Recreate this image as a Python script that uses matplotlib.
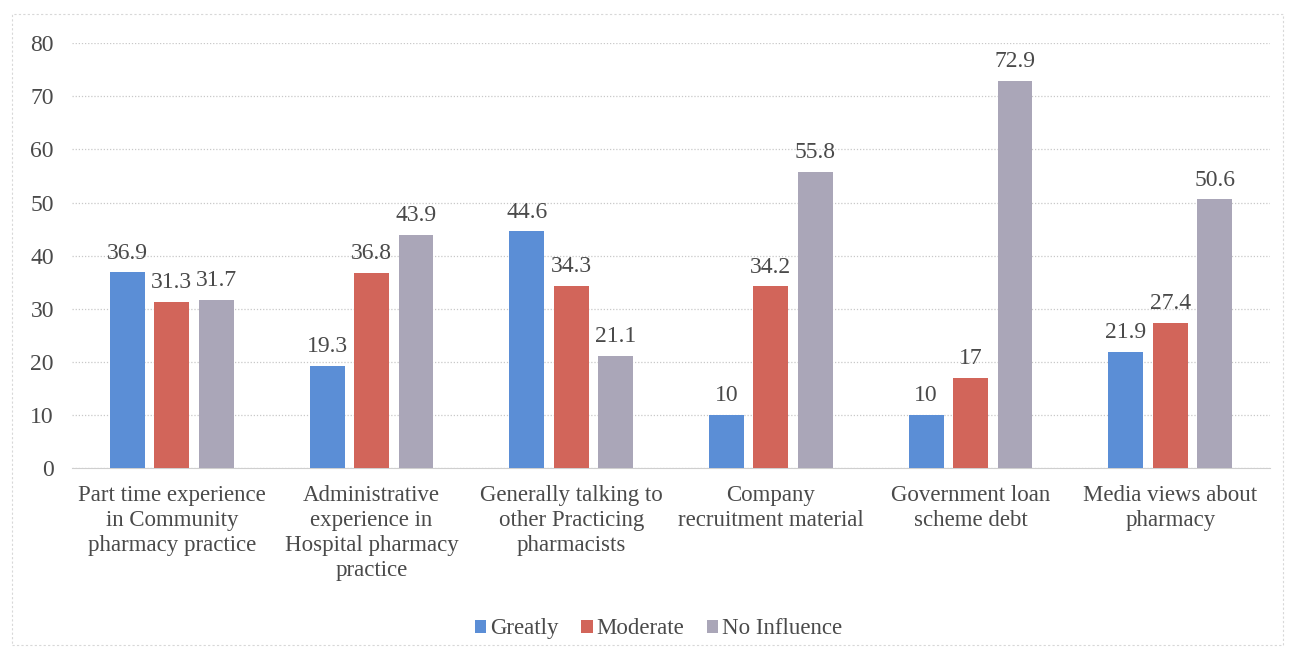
import matplotlib.pyplot as plt
import numpy as np
from matplotlib.patches import Rectangle

categories = ['Part time experience\nin Community\npharmacy practice',
              'Administrative\nexperience in\nHospital pharmacy\npractice',
              'Generally talking to\nother Practicing\npharmacists',
              'Company\nrecruitment material',
              'Government loan\nscheme debt',
              'Media views about\npharmacy']
greatly = [36.9, 19.3, 44.6, 10, 10, 21.9]
moderate = [31.3, 36.8, 34.3, 34.2, 17, 27.4]
no_influence = [31.7, 43.9, 21.1, 55.8, 72.9, 50.6]

series = [('Greatly', greatly, '#5b8ed6'),
          ('Moderate', moderate, '#d2655a'),
          ('No Influence', no_influence, '#aaa6b8')]

plt.rcParams['font.family'] = ['Liberation Serif', 'DejaVu Serif']
txt = '#4a4a4a'

fig = plt.figure(figsize=(12.91, 6.55), dpi=100)
ax = fig.add_axes([0.0558, 0.2855, 0.928, 0.6485])

x = np.arange(len(categories))
w = 0.175
step = 0.2225
for i, (name, vals, col) in enumerate(series):
    pos = x + (i - 1) * step
    bars = ax.bar(pos, vals, w, color=col, label=name, zorder=3)
    for b, v in zip(bars, vals):
        ax.text(b.get_x() + b.get_width() / 2, v + 1.6, f'{v:g}',
                ha='center', va='bottom', fontsize=17, color=txt)

ax.set_xlim(-0.5, len(categories) - 0.5)
ax.set_ylim(0, 80)
ax.set_yticks(range(0, 81, 10))
ax.yaxis.grid(True, linestyle=(0, (1, 1.5)), color='#c8c8c8', linewidth=0.9, zorder=0)
ax.set_xticks(x)
ax.set_xticklabels(categories, fontsize=16.5, color=txt, linespacing=1.25)
ax.tick_params(axis='y', labelsize=17, labelcolor=txt, length=0, pad=13)
ax.tick_params(axis='x', length=0, pad=12)
for s in ['top', 'right', 'left']:
    ax.spines[s].set_visible(False)
ax.spines['bottom'].set_color('#cfcfcf')

ax.legend(loc='center', bbox_to_anchor=(0.51, 0.04), bbox_transform=fig.transFigure,
          ncol=3, frameon=False, fontsize=16.5, handlelength=0.5, handleheight=0.5,
          handletextpad=0.15, columnspacing=1.0, labelcolor=txt)

fig.add_artist(Rectangle((0.009, 0.015), 0.985, 0.963, transform=fig.transFigure,
                         fill=False, edgecolor='#d8d8d8', linestyle=(0, (2, 2)),
                         linewidth=0.8))

fig.savefig('out.png', dpi=100)
